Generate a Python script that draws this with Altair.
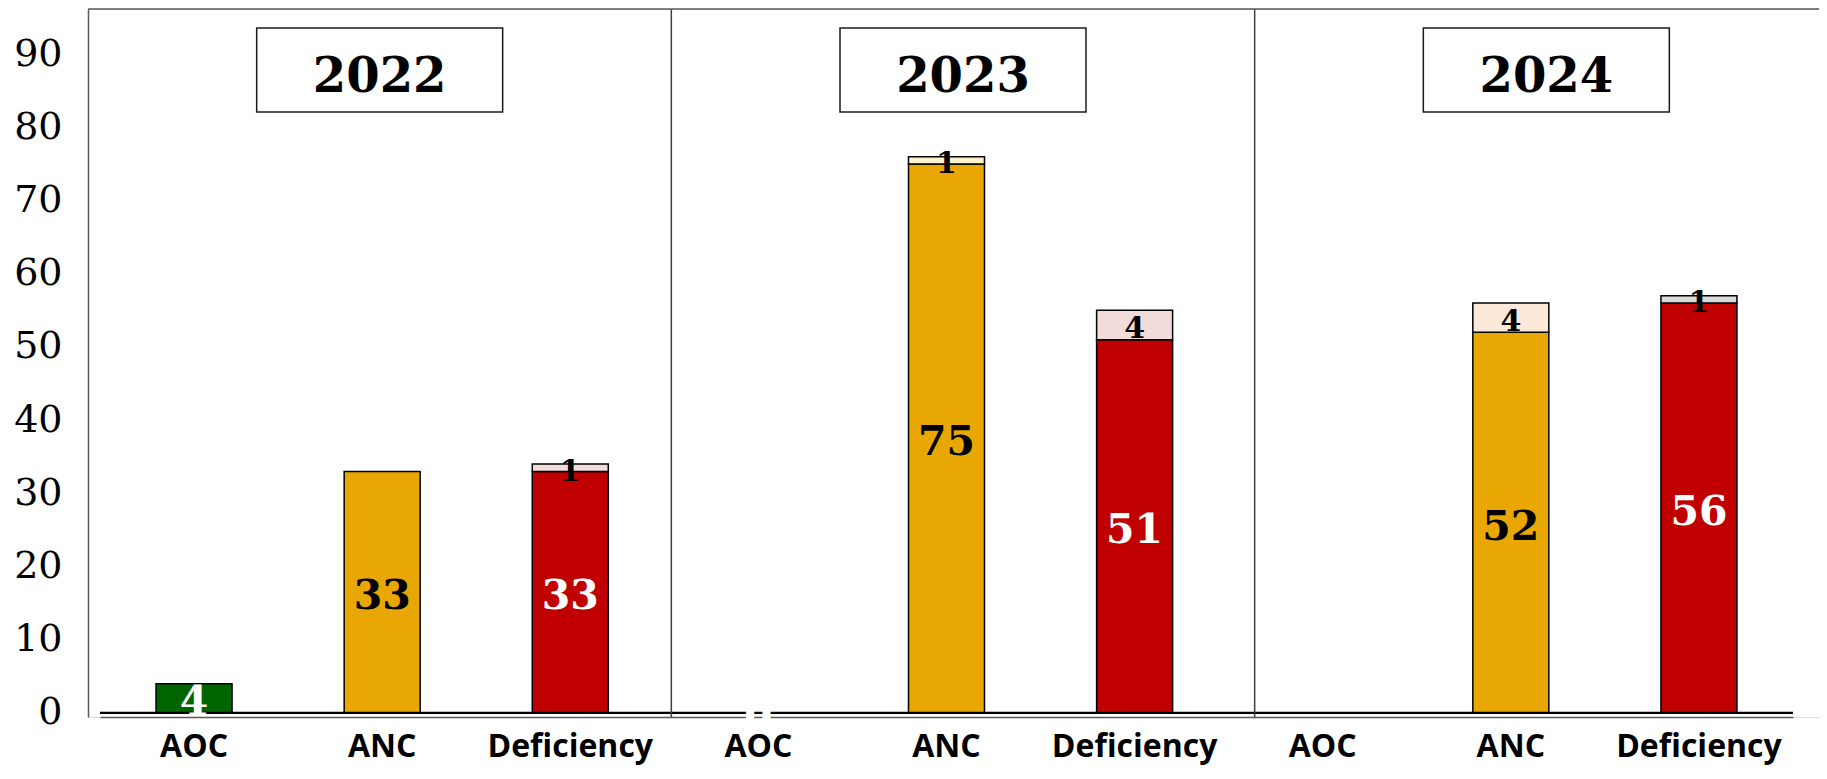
import altair as alt
import pandas as pd

# ---------------- data ----------------
years = ["2022", "2023", "2024"]
categories = ["AOC", "ANC", "Deficiency"]

main_2022 = [4, 33, 33]
main_2023 = [0, 75, 51]
main_2024 = [0, 52, 56]

top_2022 = [0, 0, 1]
top_2023 = [0, 1, 4]
top_2024 = [0, 4, 1]

main_labels_2022 = ["4", "33", "33"]
main_labels_2023 = ["0", "75", "51"]
main_labels_2024 = ["", "52", "56"]

y_ticks = [0, 10, 20, 30, 40, 50, 60, 70, 80, 90]

# ---------------- styles ----------------
main_colors = {"AOC": "#006400", "ANC": "#E8A702", "Deficiency": "#C00000"}
top_colors = {
    "2022 Deficiency": "#F2DCDB",
    "2023 ANC": "#FFF2CC",
    "2023 Deficiency": "#F2DCDB",
    "2024 ANC": "#FDE9D9",
    "2024 Deficiency": "#D9D9D9",
}
main_label_colors = {"AOC": "white", "ANC": "black", "Deficiency": "white"}

W = 1731          # plot width (px)
H = 708           # plot height (px)
frame_col = "#595959"

# ---------------- tables ----------------
mains = {"2022": main_2022, "2023": main_2023, "2024": main_2024}
tops = {"2022": top_2022, "2023": top_2023, "2024": top_2024}
mlabels = {"2022": main_labels_2022, "2023": main_labels_2023, "2024": main_labels_2024}

slots = [f"{y}|{c}" for y in years for c in categories]

seg_rows, main_lab_rows, top_lab_rows = [], [], []
for y in years:
    for j, c in enumerate(categories):
        slot = f"{y}|{c}"
        m = mains[y][j]
        t = tops[y][j]
        if m > 0:
            seg_rows.append(dict(slot=slot, y0=0, y1=m, series=c))
        if t > 0:
            seg_rows.append(dict(slot=slot, y0=m, y1=m + t, series=f"{y} {c}"))
            top_lab_rows.append(dict(slot=slot, mid=m + t / 2, text=str(t)))
        if mlabels[y][j] != "":
            main_lab_rows.append(dict(slot=slot, mid=m / 2, text=mlabels[y][j], cat=c))

seg_df = pd.DataFrame(seg_rows)
main_lab_df = pd.DataFrame(main_lab_rows)
top_lab_df = pd.DataFrame(top_lab_rows)
year_df = pd.DataFrame({"year": years, "center": [i + 0.5 for i in range(len(years))]})
edge_df = pd.DataFrame({"edge": list(range(1, len(years)))})
one_df = pd.DataFrame({"k": [0]})

series_domain = list(main_colors.keys()) + list(top_colors.keys())
series_range = list(main_colors.values()) + list(top_colors.values())

# ---------------- shared encodings ----------------
x_scale = alt.Scale(domain=slots, range=[12, 1705], paddingInner=0.596, paddingOuter=0.298)
x_axis = alt.Axis(
    labelExpr="split(datum.value, '|')[1]",
    labelFont="Open Sans", labelFontWeight="bold", labelFontSize=32, labelColor="black",
    labelAngle=0, labelPadding=39, labelBaseline="alphabetic",
    ticks=False, tickSize=0, domainColor=frame_col, domainWidth=1.5, grid=False, title=None,
)
y_scale = alt.Scale(domain=[-0.55, 96.17], nice=False, zero=False)
y_axis = alt.Axis(
    values=y_ticks, labelFont="DejaVu Serif", labelFontSize=38, labelColor="black",
    labelPadding=26, ticks=False, tickSize=0, domainColor=frame_col, domainWidth=1.5,
    grid=False, title=None,
)

def X(field):
    return alt.X(f"{field}:N", scale=x_scale, axis=x_axis, sort=slots)

def Y(field):
    return alt.Y(f"{field}:Q", scale=y_scale, axis=y_axis)

bars = alt.Chart(seg_df).mark_bar(stroke="black", strokeWidth=1.5).encode(
    x=X("slot"),
    y=Y("y0"),
    y2="y1:Q",
    fill=alt.Fill("series:N", scale=alt.Scale(domain=series_domain, range=series_range), legend=None),
)

baseline = alt.Chart(one_df).mark_rule(color="black", strokeWidth=2.2).encode(
    x=alt.value(12), x2=alt.value(1705), y=alt.datum(0)
)

main_text = alt.Chart(main_lab_df).mark_text(
    font="DejaVu Serif", fontWeight="bold", fontSize=41, baseline="middle", dy=5
).encode(
    x=X("slot"),
    y=Y("mid"),
    text="text:N",
    color=alt.Color("cat:N", scale=alt.Scale(domain=list(main_label_colors.keys()),
                                             range=list(main_label_colors.values())), legend=None),
)

top_text = alt.Chart(top_lab_df).mark_text(
    font="DejaVu Serif", fontWeight="bold", fontSize=30, baseline="middle", dy=4, color="black"
).encode(
    x=X("slot"),
    y=Y("mid"),
    text="text:N",
)

bar_group = alt.layer(bars, baseline, main_text, top_text)

panel_scale = alt.Scale(domain=[0, len(years)], range=[0, 1750], nice=False, zero=False)

dividers = alt.Chart(edge_df).mark_rule(color="#404040", strokeWidth=1.5).encode(
    x=alt.X("edge:Q", scale=panel_scale, axis=None),
    y=alt.value(0), y2=alt.value(H),
)

boxes = alt.Chart(year_df).mark_rect(
    fill="white", stroke="#1a1a1a", strokeWidth=1.5, xOffset=-123, x2Offset=123
).encode(
    x=alt.X("center:Q", scale=panel_scale, axis=None),
    x2="center:Q",
    y=alt.value(19), y2=alt.value(103),
)

year_text = alt.Chart(year_df).mark_text(
    font="DejaVu Serif", fontWeight="bold", fontSize=48, baseline="alphabetic", color="black"
).encode(
    x=alt.X("center:Q", scale=panel_scale, axis=None),
    y=alt.value(83),
    text="year:N",
)

top_rule = alt.Chart(one_df).mark_rule(color=frame_col, strokeWidth=1.5).encode(
    x=alt.value(0), x2=alt.value(W), y=alt.value(0)
)

chart = alt.layer(bar_group, dividers, boxes, year_text, top_rule).resolve_scale(
    x="independent"
).properties(
    width=W, height=H,
    autosize=alt.AutoSizeParams(type="none"),
    padding={"left": 80, "top": 1, "right": 0, "bottom": 53},
).configure_view(strokeWidth=0).configure(background="white")

chart.save("out.html", embed_options={"renderer": "svg", "actions": False})
